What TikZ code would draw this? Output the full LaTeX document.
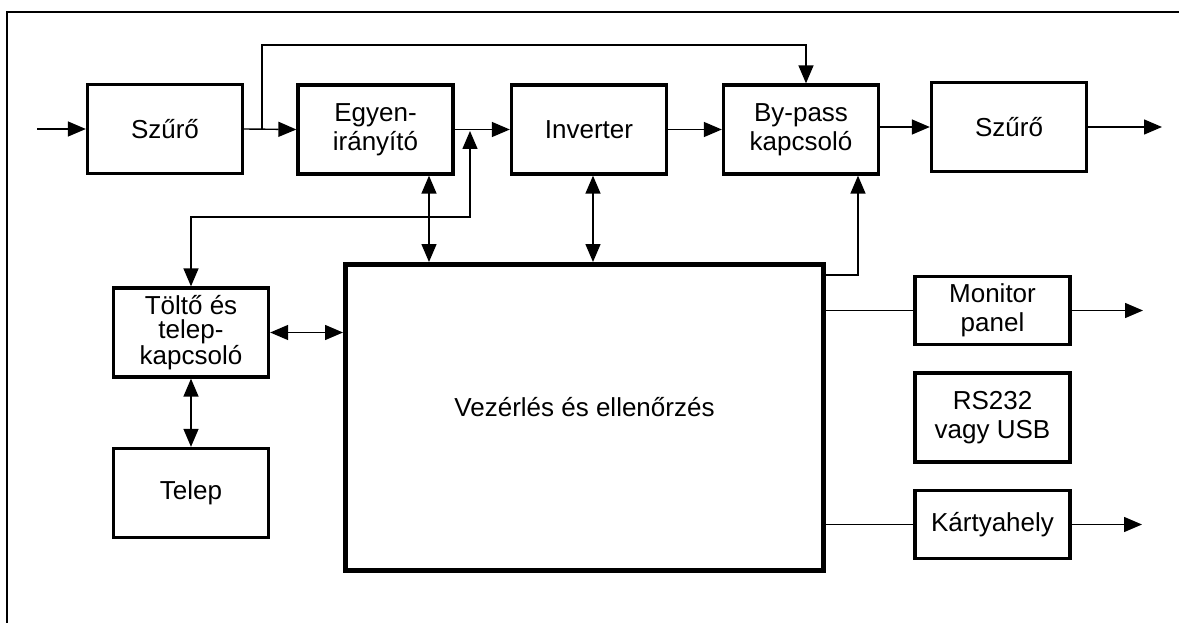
\documentclass[tikz,border=0pt]{standalone}
\usepackage{fontspec}
\setmainfont{Liberation Sans}
\usetikzlibrary{arrows.meta}
\begin{document}
\begin{tikzpicture}[x=1pt,y=-1pt,
  blk/.style={draw, line width=3.3pt, minimum width=155pt, minimum height=89pt, inner sep=0pt, align=center, font=\fontsize{26}{29}\selectfont},
  smallblk/.style={blk, minimum height=68pt},
  bigblk/.style={draw, line width=5pt, minimum width=478pt, minimum height=306pt, inner sep=0pt},
  txt/.style={inner sep=0pt, font=\fontsize{26}{29}\selectfont},
  conn/.style={line width=1.4pt},
  arr/.style={conn, -{Triangle[length=18pt,width=15pt]}},
  darr/.style={conn, {Triangle[length=18pt,width=15pt]}-{Triangle[length=18pt,width=15pt]}}]
\useasboundingbox (0,0) rectangle (1179,623);
% outer frame (only top and left edges visible)
\draw[line width=1.4pt] (1179,12) -- (7,12) -- (7,623);

% blocks
\node[blk] (f1) at (165,129) {Szűrő};
\node[blk] (rect) at (375.5,129.5) {Egyen-\\irányító};
\node[blk] (inv) at (589,129.5) {Inverter};
\node[blk] (byp) at (801,129.5) {By-pass\\kapcsoló};
\node[blk] (f2) at (1009,127) {Szűrő};
\node[blk, font=\fontsize{26}{24}\selectfont] (tolt) at (191,332.5) {Töltő és\\telep-\\kapcsoló};
\node[blk] (telep) at (191,493) {\raisebox{5pt}{Telep}};
\node[bigblk] (ctrl) at (584.5,417.5) {};
\node[txt] (ctrltxt) at (584.5,407) {Vezérlés és ellenőrzés};
\node[smallblk] (mon) at (992.5,310.5) {Monitor\\panel};
\node[blk] (rs) at (992.5,417.5) {RS232\\vagy USB};
\node[smallblk] (card) at (992.5,524.5) {Kártyahely};

% helper coordinates
\coordinate (in) at (37,129);
\coordinate (br) at (262,129);
\coordinate (bptop) at (806,45);
\coordinate (cj) at (470,217);
\coordinate (cjtip) at (470,131);
\coordinate (x1) at (429,0);
\coordinate (x2) at (593,0);
\coordinate (bc) at (858,275);
\coordinate (monout) at (1143,310.5);
\coordinate (cardout) at (1142,524.5);
\coordinate (f2out) at (1162,127);

% main power path
\draw[arr] (in) -- (f1.west);
\draw[arr] (f1.east) -- (rect.west);
\draw[arr] (rect.east) -- (inv.west);
\draw[arr] (inv.east) -- (byp.west);
\draw[arr] (byp.east |- f2.west) -- (f2.west);
\draw[arr] (f2.east) -- (f2out);

% bypass line
\draw[arr] (br) |- (bptop) -- (bptop |- byp.north);

% charger link
\draw[darr] (tolt.north) |- (cj) -- (cjtip);

% control links
\draw[darr] (rect.south -| x1) -- (ctrl.north -| x1);
\draw[darr] (inv.south -| x2) -- (ctrl.north -| x2);
\draw[arr] (ctrl.east |- bc) -- (bc) -- (bc |- byp.south);
\draw[darr] (tolt.east) -- (ctrl.west |- tolt.east);
\draw[darr] (tolt.south) -- (telep.north);

% outputs
\draw[conn] (ctrl.east |- mon.west) -- (mon.west);
\draw[arr] (mon.east) -- (monout);
\draw[conn] (ctrl.east |- card.west) -- (card.west);
\draw[arr] (card.east) -- (cardout);
\end{tikzpicture}
\end{document}
